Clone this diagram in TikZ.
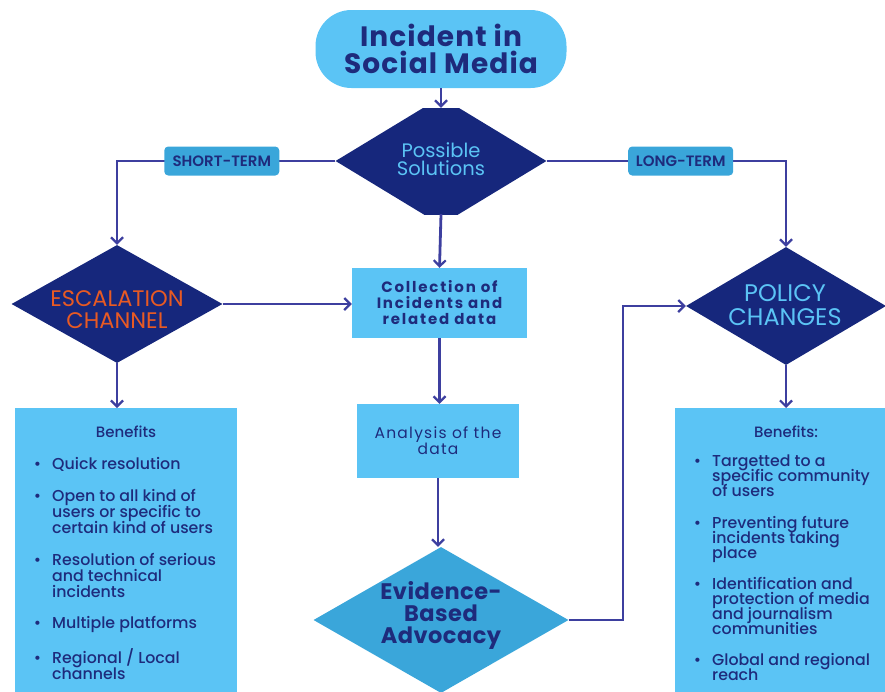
\documentclass[tikz,border=0pt]{standalone}
\usepackage{fontspec}
\setmainfont{Poppins}
\IfFontExistsTF{Poppins Medium}{\newfontfamily\pmed{Poppins Medium}}{\newfontfamily\pmed{Poppins}}
\IfFontExistsTF{Poppins SemiBold}{\newfontfamily\psemi{Poppins SemiBold}}{\newfontfamily\psemi{Poppins}[FakeBold=1.5]}
\newfontfamily\pbold{Poppins}[UprightFont=*-Bold,LetterSpace=4]
\newfontfamily\pboldev{Poppins}[UprightFont=*-Bold,LetterSpace=2]
\newfontfamily\pregsp{Poppins}[LetterSpace=8]
\newfontfamily\pboldsp{Poppins}[UprightFont=*-Bold,LetterSpace=12]
\usetikzlibrary{shapes.geometric,arrows.meta,calc}
\definecolor{lblue}{HTML}{5BC4F5}
\definecolor{mblue}{HTML}{3AA6DA}
\definecolor{navy}{HTML}{16277C}
\definecolor{ink}{HTML}{1E2B7C}
\definecolor{wire}{HTML}{3D3F9F}
\definecolor{orng}{HTML}{E85A23}
\begin{document}
\begin{tikzpicture}[x=1pt,y=-1pt,
  wire/.style={draw=wire, line width=2.8pt},
  arr/.style={wire, -{Straight Barb[length=6pt,width=12pt,line width=2.2pt]}},
  dia/.style={diamond, inner sep=0pt, draw=none},
  box/.style={rectangle, fill=lblue, inner sep=0pt},
  tag/.style={rectangle, rounded corners=4pt, fill=mblue, text=ink, font=\psemi\fontsize{15}{15}\selectfont, minimum height=29pt, minimum width=115pt, inner xsep=0pt},
  lbl/.style={align=center, inner sep=0pt, execute at begin node={\lineskiplimit=-20pt}},
  item/.style={anchor=north west, align=left, text=ink, inner sep=0pt, execute at begin node={\lineskiplimit=-20pt}},
]
\useasboundingbox (0,0) rectangle (885,691);
\newcommand{\bl}{\llap{\textbullet\hspace{11pt}}}

% top terminal
\node[box, rounded corners=36pt, minimum width=251pt, minimum height=78pt, text=ink, align=center,
      font=\pbold\fontsize{28}{27}\selectfont] (top) at (441,49) {Incident in\\Social Media};

% possible solutions (truncated diamond)
\begin{scope}
  \clip (0,108) rectangle (885,214);
  \node[dia, fill=navy, minimum width=211pt, minimum height=128pt] (ps) at (441,161) {};
\end{scope}
\node[lbl, text=lblue, font=\fontsize{19.5}{18.5}\selectfont] (pst) at (441,159) {Possible\\Solutions};

% escalation channel
\node[dia, fill=navy, minimum width=211pt, minimum height=118pt] (esc) at (117,304) {};
\node[lbl, text=orng, font=\fontsize{22.5}{22}\selectfont] (esct) at (117,310) {ESCALATION\\CHANNEL};

% policy changes
\node[dia, fill=navy, minimum width=200pt, minimum height=118pt] (pol) at (786,306) {};
\node[lbl, text=lblue, font=\fontsize{24}{24}\selectfont] (polt) at (785,305) {POLICY\\CHANGES};

% collection
\node[box, minimum width=175pt, minimum height=70pt, text=ink, align=center,
      font=\pboldsp\fontsize{15}{16}\selectfont] (col) at (439.5,303) {Collection of\\Incidents and\\related data};

% analysis
\node[box, minimum width=162pt, minimum height=74pt, text=ink, align=center,
      font=\pregsp\fontsize{15.5}{16}\selectfont] (ana) at (438,441) {Analysis of the\\data};

% evidence based advocacy
\node[dia, fill=mblue, minimum width=255pt, minimum height=146pt] (ev) at (441,620) {};
\node[lbl, text=ink, font=\pboldev\fontsize{22.5}{22}\selectfont] (evt) at (441,615) {Evidence-\\Based\\Advocacy};

% benefit boxes
\node[box, anchor=north west, minimum width=222pt, minimum height=300pt] (lb) at (15,408) {};
\node[box, anchor=north west, minimum width=215pt, minimum height=300pt] (rb) at (675,408) {};

\node[lbl, text=ink, font=\pmed\fontsize{15}{15}\selectfont] (lbt) at (126,432) {Benefits};
\node[lbl, text=ink, font=\pmed\fontsize{15}{15}\selectfont] (rbt) at (786,432) {Benefits:};

\begin{scope}[every node/.style={item, font=\pmed\fontsize{15.8}{16}\selectfont}]
\node (l1) at (52,457) {\bl Quick resolution};
\node (l2) at (52,489) {\bl Open to all kind of\\users or specific to\\certain kind of users};
\node (l3) at (52,553) {\bl Resolution of serious\\and technical\\incidents};
\node (l4) at (52,616) {\bl Multiple platforms};
\node (l5) at (52,648) {\bl Regional / Local\\channels};
\end{scope}
\begin{scope}[every node/.style={item, font=\pmed\fontsize{15.8}{15}\selectfont}]
\node (r1) at (712,455) {\bl Targetted to a\\specific community\\of users};
\node (r2) at (712,516) {\bl Preventing future\\incidents taking\\place};
\node (r3) at (712,577) {\bl Identification and\\protection of media\\and journalism\\communities};
\node (r4) at (712,653) {\bl Global and regional\\reach};
\end{scope}

% connectors
\draw[arr] (top.south) -- ([yshift=-11pt]ps.north);
\draw[arr] (ps.west) -| node[tag, pos=0.26] (st) {SHORT-TERM} (esc.north);
\draw[arr] (ps.east) -| node[tag, pos=0.28, minimum width=105pt] (lt) {LONG-TERM} (pol.north);
\draw[arr] ([yshift=11pt]ps.south) -- (col.north);
\draw[arr] (esc.east) -- (esc.east -| col.west);
\draw[arr] (col.south) -- (col.south |- ana.north);
\draw[arr] (ana.south) -- (ana.south |- ev.north);
\coordinate (bend) at (623,620);
\draw[arr] (ev.east) -- (bend) |- (pol.west);
\draw[arr] (esc.south) -- (esc.south |- lb.north);
\draw[arr] (pol.south) -- (pol.south |- rb.north);
\end{tikzpicture}
\end{document}
